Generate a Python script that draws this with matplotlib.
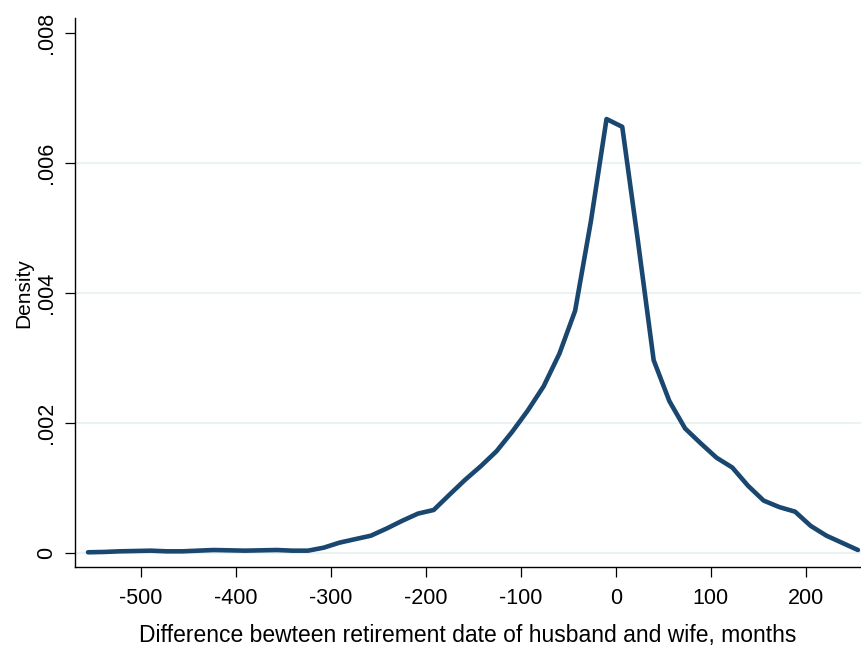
import numpy as np
import matplotlib.pyplot as plt

# frequency polygon of the retirement-date gap (months), 50 equally spaced points
x_start = -555.5
x_step = 16.54
density = [
    0.000015, 0.00002, 0.00003, 0.000035, 0.00004, 0.00003, 0.00003, 0.00004,
    0.00005, 0.000045, 0.00004, 0.000045, 0.00005, 0.00004, 0.00004, 0.000086,
    0.000163, 0.000217, 0.00027, 0.00038, 0.0005, 0.00061, 0.000666, 0.0009,
    0.00113, 0.00134, 0.00157, 0.00187, 0.0022, 0.00257, 0.00307, 0.00373,
    0.0051, 0.00668, 0.00656, 0.0048, 0.00297, 0.00234, 0.00192, 0.00169,
    0.00147, 0.00132, 0.00104, 0.00081, 0.00071, 0.00064, 0.00042, 0.00027,
    0.00016, 0.00005,
]
months = x_start + x_step * np.arange(len(density))

xticks = [-500, -400, -300, -200, -100, 0, 100, 200]
yticks = [0, 0.002, 0.004, 0.006, 0.008]
ytick_labels = ["0", ".002", ".004", ".006", ".008"]

plt.rcParams['font.family'] = ['Liberation Sans', 'DejaVu Sans']

fig = plt.figure(figsize=(8.61, 6.52), dpi=100)
ax = fig.add_axes([0.0868, 0.13, 0.9132, 0.842])

for yv in yticks[:-1]:
    ax.axhline(yv, color='#eaf2f3', lw=1.5, zorder=0)

ax.plot(months, density, color='#1a476f', lw=3.3, solid_joinstyle='round',
        solid_capstyle='round', zorder=3)

ax.set_xlim(-569.5, 258.2)
ax.set_ylim(-0.000215, 0.00823)
ax.set_xticks(xticks)
ax.set_xticklabels([str(t) for t in xticks])
ax.set_yticks(yticks)
ax.set_yticklabels(ytick_labels, rotation=90, va='center')

for s in ['top', 'right']:
    ax.spines[s].set_visible(False)
for s in ['left', 'bottom']:
    ax.spines[s].set_linewidth(1.0)

ax.tick_params(axis='both', length=7, width=0.9, labelsize=15.5, colors='black')
ax.tick_params(axis='x', pad=8)
ax.tick_params(axis='y', pad=6)

ax.set_xlabel("Difference bewteen retirement date of husband and wife, months",
              fontsize=16.5, labelpad=11)
ax.set_ylabel("Density", fontsize=15, labelpad=2)

fig.savefig("out.png", dpi=100, facecolor='white')
